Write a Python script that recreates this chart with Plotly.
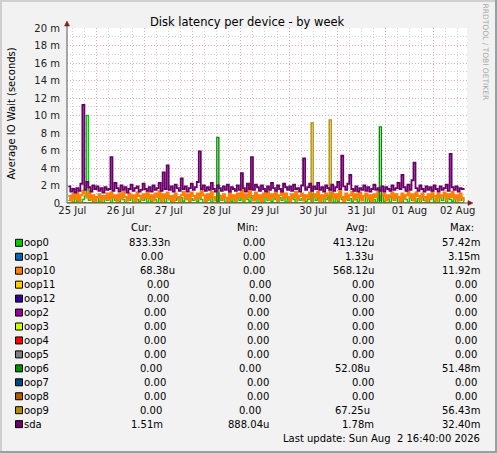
"""Munin-style disk latency chart (week view) rebuilt with Plotly."""

import pandas as pd
import plotly.graph_objects as go

# ---------------------------------------------------------------- data
# hourly samples starting 25 Jul 10:00, values in milliseconds
START = "2026-07-25 10:00"

sda = [
    1.9, 1.3, 1.6, 1.2, 1.7, 1.4, 2.2, 11.2, 1.5, 2.4, 1.8, 1.3, 2.0, 1.6, 1.9, 1.4, 1.7, 1.2, 1.8, 1.5,
    1.6, 5.25, 1.4, 2.3, 1.7, 1.3, 2.0, 1.5, 1.8, 1.2, 1.6, 2.1, 1.4, 1.7, 1.9, 1.3, 1.5, 2.2, 1.6, 1.4,
    1.8, 1.3, 2.0, 1.5, 1.7, 2.3, 1.4, 3.5, 1.6, 4.3, 1.5, 1.9, 1.3, 2.1, 1.7, 1.4, 2.8, 1.6, 1.9, 1.3,
    1.7, 2.2, 1.5, 1.8, 2.4, 5.9, 1.6, 2.0, 1.4, 1.8, 1.5, 2.3, 1.6, 1.3, 2.0, 1.7, 1.4, 1.9, 1.5, 2.1,
    1.3, 1.8, 1.6, 1.4, 2.0, 1.5, 3.4, 1.7, 1.3, 2.2, 1.6, 5.25, 1.5, 2.1, 1.8, 1.4, 2.0, 1.6, 1.3, 1.9,
    1.5, 2.3, 1.7, 1.4, 2.0, 1.6, 1.3, 2.2, 1.8, 1.5, 1.9, 1.4, 2.1, 1.6, 1.7, 1.3, 2.0, 5.1, 1.5, 1.8,
    2.2, 1.4, 1.9, 1.6, 2.3, 1.5, 1.8, 1.3, 2.0, 1.7, 1.5, 2.1, 1.4, 1.8, 2.4, 1.6, 5.4, 1.9, 1.5, 2.2,
    3.2, 1.6, 1.4, 1.9, 1.3, 1.7, 1.5, 2.0, 1.4, 1.8, 1.3, 1.6, 2.1, 1.5, 1.7, 1.4, 1.9, 1.3, 1.8, 1.6,
    1.4, 2.0, 1.5, 1.7, 2.3, 1.6, 3.2, 1.8, 1.4, 2.1, 1.5, 2.6, 4.6, 1.7, 1.4, 2.0, 1.6, 1.3, 1.9, 1.5,
    1.8, 1.4, 2.0, 1.6, 1.3, 1.9, 1.5, 1.7, 2.1, 1.4, 5.6, 1.8, 1.5, 1.9, 1.3, 1.7, 1.6, 1.5,
]

oop10 = [
    0.8, 0.3, 1.0, 0.5, 1.2, 0.2, 0.9, 1.4, 1.1, 0.6, 1.3, 0.4, 0.9, 0.2, 0.7, 1.0, 0.3, 0.8, 0.5, 1.1,
    0.4, 1.2, 0.6, 0.9, 0.1, 1.0, 0.5, 1.3, 0.7, 0.3, 1.1, 0.6, 0.9, 0.2, 1.2, 0.8, 0.4, 1.0, 0.6, 1.3,
    0.5, 0.9, 0.3, 1.1, 0.7, 1.4, 0.2, 1.0, 0.6, 1.2, 0.4, 0.8, 0.1, 1.1, 0.7, 0.3, 0.9, 1.3, 0.5, 1.0,
    0.3, 1.2, 0.8, 0.4, 1.1, 0.6, 1.4, 0.9, 0.2, 1.0, 0.5, 1.3, 0.7, 0.3, 1.1, 0.8, 0.4, 1.0, 0.6, 0.2,
    1.2, 0.5, 0.9, 0.3, 1.1, 0.7, 1.5, 0.4, 1.0, 0.6, 2.2, 0.8, 0.3, 1.2, 0.5, 0.9, 0.2, 1.1, 0.7, 1.3,
    0.4, 1.0, 0.6, 1.2, 0.3, 0.9, 1.4, 0.5, 1.1, 0.7, 0.2, 1.0, 0.6, 1.3, 0.4, 0.8, 1.1, 0.3, 0.9, 0.6,
    1.2, 0.4, 1.0, 0.7, 1.3, 0.2, 0.9, 0.5, 1.1, 0.8, 0.3, 1.2, 0.6, 1.0, 0.4, 1.4, 0.7, 0.2, 1.1, 0.5,
    0.9, 1.3, 0.4, 1.0, 0.6, 1.2, 0.3, 0.8, 1.1, 0.5, 0.9, 0.2, 1.0, 0.7, 1.3, 0.4, 0.8, 1.1, 0.3, 0.9,
    0.6, 1.2, 0.4, 1.0, 0.7, 0.2, 1.1, 0.5, 0.9, 1.3, 0.6, 1.0, 0.3, 1.2, 0.8, 0.4, 1.1, 0.7, 0.2, 1.0,
    0.5, 1.3, 0.8, 0.3, 1.1, 0.6, 0.9, 1.2, 0.4, 1.0, 0.7, 1.3, 0.5, 0.9, 0.3, 1.1, 0.6, 0.2,
]

oop0 = [
    0.3, 0.6, 0.1, 0.5, 0.2, 0.7, 0.0, 0.4, 0.8, 10.0, 0.3, 0.6, 0.1, 0.4, 0.7, 0.2, 0.5, 0.0, 0.6, 0.3,
    0.5, 0.1, 0.7, 0.3, 0.6, 0.2, 0.8, 0.4, 0.0, 0.5, 0.3, 0.7, 0.1, 0.6, 0.4, 0.2, 0.8, 0.3, 0.5, 0.1,
    0.6, 0.2, 0.7, 0.4, 0.0, 0.5, 0.3, 0.8, 0.1, 0.6, 0.4, 0.2, 0.7, 0.3, 0.5, 0.0, 0.6, 0.2, 0.8, 0.4,
    0.1, 0.5, 0.3, 0.7, 0.2, 0.6, 0.4, 0.0, 0.8, 0.3, 0.5, 0.1, 0.7, 0.4, 0.2, 0.6, 0.3, 0.8, 0.1, 0.5,
    0.4, 0.2, 0.7, 0.0, 0.6, 0.3, 0.5, 0.1, 0.8, 0.4, 0.2, 0.6, 0.3, 0.7, 0.0, 0.5, 0.4, 0.1, 0.6, 0.3,
    0.7, 0.2, 0.5, 0.4, 0.0, 0.6, 0.3, 0.8, 0.1, 0.5, 0.2, 0.7, 0.4, 0.0, 0.6, 0.3, 0.5, 0.9, 0.2, 0.4,
    0.6, 0.1, 0.8, 0.3, 0.5, 0.2, 0.7, 0.0, 0.4, 0.6, 0.3, 0.8, 0.1, 0.5, 0.2, 0.7, 0.4, 0.0, 0.6, 0.3,
    0.5, 0.2, 0.7, 0.4, 0.1, 0.6, 0.3, 0.8, 0.0, 0.5, 0.2, 0.7, 0.4, 0.1, 0.6, 0.3, 0.9, 0.2, 0.5, 0.4,
    0.1, 0.7, 0.3, 0.6, 0.0, 0.5, 0.2, 0.8, 0.4, 0.1, 0.6, 0.3, 0.9, 0.2, 0.5, 0.0, 0.7, 0.3, 0.6, 0.1,
    0.4, 0.7, 0.2, 0.5, 0.0, 0.6, 0.3, 0.8, 0.1, 0.5, 0.4, 0.2, 0.7, 0.0, 0.6, 0.3, 0.5, 0.1,
]

# devices that are idle except for a couple of spikes (hour index -> ms)
oop6_spike_hours = [74, 155]
oop6_spike_values = [7.5, 8.7]
oop9_spike_hours = [121, 130]
oop9_spike_values = [9.15, 9.5]

# legend table
names = ["oop0", "oop1", "oop10", "oop11", "oop12", "oop2", "oop3",
         "oop4", "oop5", "oop6", "oop7", "oop8", "oop9", "sda"]
colors = ["#00CC00", "#0066B3", "#FF8000", "#FFCC00", "#330099", "#990099", "#CCFF00",
          "#FF0000", "#808080", "#008F00", "#00487D", "#B35A00", "#B38F00", "#6B006B"]
cur = ["833.33n", "0.00", "68.38u", "0.00", "0.00", "0.00", "0.00",
       "0.00", "0.00", "0.00", "0.00", "0.00", "0.00", "1.51m"]
mins = ["0.00", "0.00", "0.00", "0.00", "0.00", "0.00", "0.00",
        "0.00", "0.00", "0.00", "0.00", "0.00", "0.00", "888.04u"]
avgs = ["413.12u", "1.33u", "568.12u", "0.00", "0.00", "0.00", "0.00",
        "0.00", "0.00", "52.08u", "0.00", "0.00", "67.25u", "1.78m"]
maxs = ["57.42m", "3.15m", "11.92m", "0.00", "0.00", "0.00", "0.00",
        "0.00", "0.00", "51.48m", "0.00", "0.00", "56.43m", "32.40m"]

y_ticks = list(range(0, 21, 2))
y_ticktext = ["0"] + [f"{v} m" for v in y_ticks[1:]]

# ---------------------------------------------------------------- build
FONT = "DejaVu Sans"
W, H = 497, 453
ML, MR, MT, MB = 67, 30, 28, 250
PW, PH = W - ML - MR, H - MT - MB


def px(x):
    return (x - ML) / PW


def py(y):
    return (H - MB - y) / PH


times = pd.date_range(START, periods=len(sda), freq="h")


def spikes(hours, values):
    series = [0.0] * len(sda)
    for h, v in zip(hours, values):
        series[h] = v
    return series


fig = go.Figure()
for name, values, color, width in [
    ("oop0", oop0, "#00CC00", 1.4),
    ("oop10", oop10, "#FF8000", 2.0),
    ("oop6", spikes(oop6_spike_hours, oop6_spike_values), "#008F00", 1.4),
    ("oop9", spikes(oop9_spike_hours, oop9_spike_values), "#B38F00", 1.4),
    ("sda", sda, "#6B006B", 1.8),
]:
    fig.add_trace(
        go.Scatter(
            x=times, y=values, mode="lines", name=name,
            line=dict(color=color, width=width, shape="hv"),
            showlegend=False, hoverinfo="skip",
        )
    )

grid_major = "#F2A5A5"
grid_minor = "#D2D2D2"
fig.update_xaxes(
    range=["2026-07-25 09:20", "2026-08-02 16:40"],
    tick0="2026-07-25", dtick=86400000, ticklabelmode="period", tickformat="%d %b",
    showgrid=True, gridcolor=grid_major, griddash="1px,2px", gridwidth=1,
    minor=dict(dtick=6 * 3600000, tick0="2026-07-25", showgrid=True,
               gridcolor=grid_minor, griddash="1px,2px", gridwidth=1),
    ticks="", showline=False, zeroline=False,
    tickfont=dict(family=FONT, size=10, color="#222"),
)
fig.update_yaxes(
    range=[0, 20], tickvals=y_ticks, ticktext=y_ticktext,
    showgrid=True, gridcolor=grid_major, griddash="1px,2px", gridwidth=1,
    minor=dict(dtick=1, showgrid=True, gridcolor=grid_minor, griddash="1px,2px", gridwidth=1),
    ticks="", showline=False, zeroline=False, ticklabelstandoff=6,
    tickfont=dict(family=FONT, size=10, color="#222"),
)

shapes = []
# axes with arrow heads
axis_color = "#555555"
arrow_color = "#7F1F1F"
shapes.append(dict(type="line", xref="paper", yref="paper", x0=0, x1=0,
                   y0=0, y1=py(25), line=dict(color=axis_color, width=1)))
shapes.append(dict(type="line", xref="paper", yref="paper", x0=0, x1=px(469),
                   y0=0, y1=0, line=dict(color=axis_color, width=1)))
shapes.append(dict(type="path", xref="paper", yref="paper",
                   path=f"M {px(64.5)} {py(26)} L {px(69.5)} {py(26)} L {px(67)} {py(21)} Z",
                   fillcolor=arrow_color, line=dict(color=arrow_color, width=0.5)))
shapes.append(dict(type="path", xref="paper", yref="paper",
                   path=f"M {px(468)} {py(200.5)} L {px(468)} {py(205.5)} L {px(473)} {py(203)} Z",
                   fillcolor=arrow_color, line=dict(color=arrow_color, width=0.5)))
# 3D frame around the picture
frame_light, frame_dark = "#CFCFCF", "#9E9E9E"
shapes.append(dict(type="line", xref="paper", yref="paper", x0=px(1), x1=px(1),
                   y0=py(0), y1=py(H), line=dict(color=frame_light, width=2)))
shapes.append(dict(type="line", xref="paper", yref="paper", x0=px(0), x1=px(W),
                   y0=py(1), y1=py(1), line=dict(color=frame_light, width=2)))
shapes.append(dict(type="line", xref="paper", yref="paper", x0=px(W - 1), x1=px(W - 1),
                   y0=py(0), y1=py(H), line=dict(color=frame_dark, width=2)))
shapes.append(dict(type="line", xref="paper", yref="paper", x0=px(0), x1=px(W),
                   y0=py(H - 1), y1=py(H - 1), line=dict(color=frame_dark, width=2)))

annotations = []


def text(x, y, s, size=10, xanchor="left", color="#000000", angle=0):
    annotations.append(dict(
        x=px(x), y=py(y), xref="paper", yref="paper", text=s, showarrow=False,
        xanchor=xanchor, yanchor="middle", textangle=angle, borderpad=0,
        font=dict(family=FONT, size=size, color=color),
    ))


text(247.5, 21.5, "Disk latency per device - by week", size=11.5, xanchor="center")
text(11, 113.5, "Average IO Wait (seconds)", size=10, xanchor="center", angle=-90)
text(485.5, 52, "RRDTOOL / TOBI OETIKER", size=7.5, xanchor="center", color="#AAAAAA", angle=90)

# legend header
for label, xc in [("Cur:", 141), ("Min:", 247), ("Avg:", 357), ("Max:", 462)]:
    text(xc, 227.5, label, xanchor="center")

# right edges of each value cell (rrdtool pads with spaces in a proportional font)
col_ends = [
    (171.3, 266.0, 375.3, 481.0), (164.3, 266.0, 375.3, 481.0), (176.3, 266.0, 374.7, 481.0),
    (170.0, 272.3, 375.3, 478.0), (170.0, 272.3, 375.0, 478.0), (167.3, 270.3, 375.0, 478.0),
    (167.3, 270.3, 375.0, 478.0), (167.3, 270.3, 375.0, 478.0), (167.3, 270.3, 375.0, 478.0),
    (163.3, 262.3, 371.3, 481.0), (167.3, 270.3, 375.0, 478.0), (167.3, 270.3, 375.0, 478.0),
    (163.3, 262.3, 371.3, 481.0), (164.0, 270.3, 374.7, 481.0),
]
for i, name in enumerate(names):
    yc = 242.8 + i * 13.95
    shapes.append(dict(type="rect", xref="paper", yref="paper",
                       x0=px(15.5), x1=px(22.5), y0=py(yc + 3.5), y1=py(yc - 3.5),
                       fillcolor=colors[i], line=dict(color="#000000", width=1)))
    text(23.2, yc, name)
    for s, xe in zip((cur[i], mins[i], avgs[i], maxs[i]), col_ends[i]):
        text(xe, yc, s, xanchor="right")

text(481, 438.5, "Last update: Sun Aug  2 16:40:00 2026".replace("  ", "\u00a0 "), xanchor="right")

fig.update_layout(
    width=W, height=H,
    margin=dict(l=ML, r=MR, t=MT, b=MB, pad=0),
    paper_bgcolor="#F2F2F2", plot_bgcolor="#FFFFFF",
    font=dict(family=FONT, size=10, color="#000000"),
    shapes=shapes, annotations=annotations, showlegend=False,
)

# the page body has a default 8px margin; drop it so the figure sits at 0,0
fig.write_html(
    "out.html",
    config={"displayModeBar": False, "staticPlot": True},
    post_script="document.body.style.margin='0';document.body.style.overflow='hidden';",
)
